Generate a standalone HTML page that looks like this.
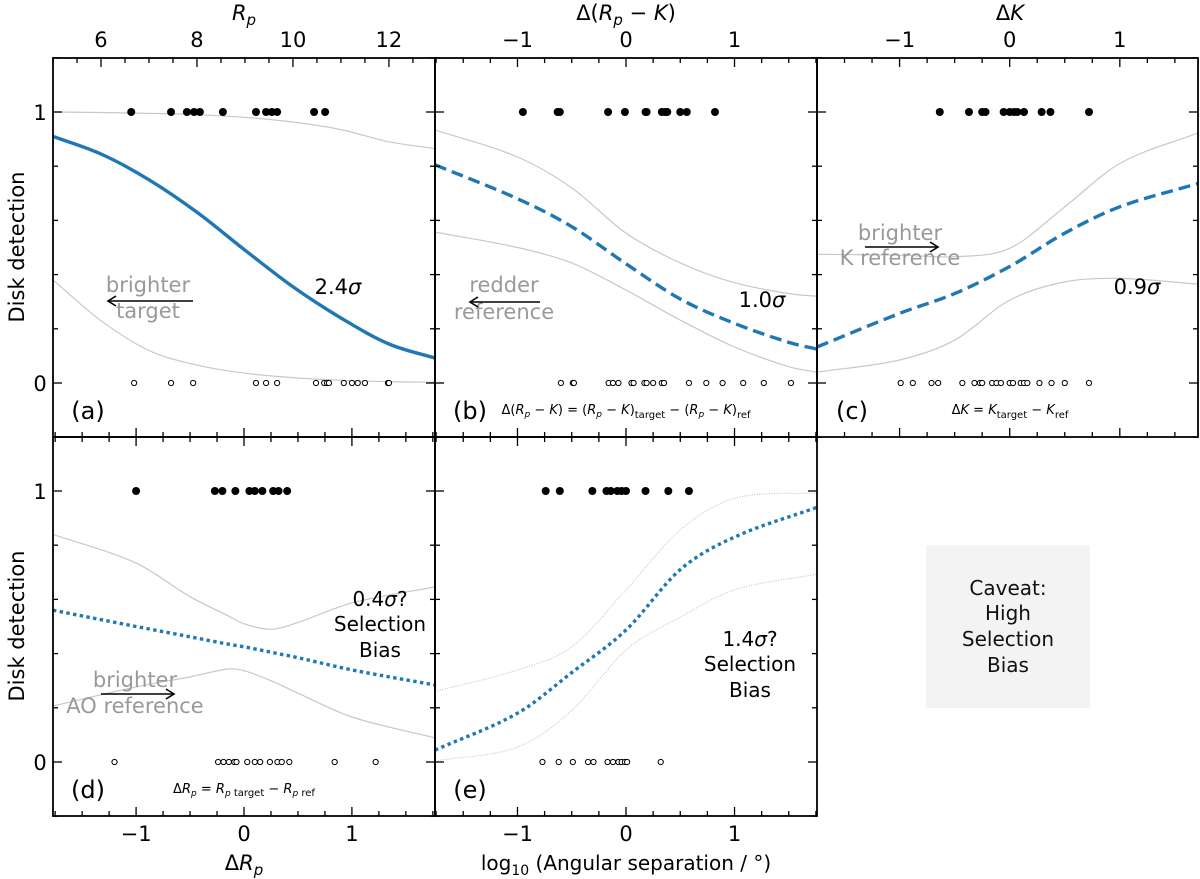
<!DOCTYPE html>
<html><head><meta charset="utf-8"><style>
html,body{margin:0;padding:0;background:#fff}
svg{display:block;font-family:"DejaVu Sans","Liberation Sans",sans-serif}
</style></head><body>
<svg id="fig" width="1200" height="879" viewBox="0 0 1200 879" xmlns="http://www.w3.org/2000/svg">
<rect x="926" y="545" width="164" height="163" fill="#f3f3f3"/>
<g font-size="20" text-anchor="middle" fill="#111">
<text x="1008" y="595">Caveat:</text><text x="1008" y="620">High</text><text x="1008" y="646">Selection</text><text x="1008" y="672">Bias</text>
</g>
</svg>
<script>
// ---- Panel (a): x = Rp
const aDetX=[6.63,7.46,7.79,7.94,8.06,8.54,9.23,9.44,9.56,9.67,10.44,10.67];
const aNonX=[6.69,7.46,7.92,9.23,9.44,9.67,10.48,10.65,10.71,10.75,11.06,11.23,11.35,11.5,11.98,12.0];
const aCurveX=[5,6,7,8,9,10,11,12,12.96];
const aFit=[0.91,0.845,0.75,0.63,0.49,0.355,0.24,0.144,0.092];
const aUpper=[1.0,0.998,0.995,0.99,0.98,0.963,0.935,0.89,0.865];
const aLower=[0.38,0.23,0.12,0.066,0.036,0.02,0.01,0.005,0.003];
// ---- Panel (b): x = Δ(Rp−K)
const bDetX=[-0.95,-0.63,-0.61,-0.165,-0.01,0.18,0.19,0.33,0.36,0.38,0.5,0.56,0.82];
const bNonX=[-0.6,-0.49,-0.48,-0.16,-0.12,-0.07,0.05,0.07,0.17,0.19,0.25,0.33,0.35,0.58,0.74,0.89,1.08,1.27,1.52];
const bCurveX=[-1.76,-1,-0.5,0,0.5,1,1.5,1.76];
const bFit=[0.805,0.68,0.577,0.44,0.31,0.22,0.15,0.125];
const bUpper=[0.934,0.834,0.72,0.553,0.443,0.37,0.33,0.32];
const bLower=[0.557,0.5,0.443,0.343,0.232,0.133,0.06,0.04];
// ---- Panel (c): x = ΔK
const cDetX=[-0.635,-0.37,-0.25,-0.22,-0.055,0,0.04,0.07,0.13,0.29,0.37,0.72];
const cNonX=[-0.99,-0.88,-0.71,-0.65,-0.43,-0.32,-0.27,-0.25,-0.16,-0.12,-0.08,0,0.03,0.1,0.13,0.16,0.27,0.38,0.5,0.72];
const cCurveX=[-1.75,-1,-0.5,0,0.5,1,1.71];
const cFit=[0.133,0.257,0.33,0.43,0.553,0.65,0.736];
const cUpper=[0.475,0.472,0.466,0.497,0.65,0.81,0.923];
const cLower=[0.04,0.085,0.158,0.306,0.373,0.386,0.365];
// ---- Panel (d): x = ΔRp
const dDetX=[-1.0,-0.27,-0.2,-0.08,0.05,0.1,0.17,0.27,0.32,0.4];
const dNonX=[-1.2,-0.24,-0.19,-0.14,-0.09,-0.07,0.03,0.1,0.15,0.24,0.31,0.35,0.42,0.84,1.22];
const dCurveX=[-1.77,-1,-0.5,-0.15,0,0.25,0.5,1,1.77];
const dFit=[0.56,0.5,0.462,0.435,0.425,0.405,0.385,0.34,0.284];
const dUpper=[0.84,0.734,0.61,0.54,0.51,0.49,0.515,0.587,0.646];
const dLower=[0.207,0.277,0.314,0.343,0.337,0.3,0.254,0.166,0.089];
// ---- Panel (e): x = log10 angular separation
const eDetX=[-0.74,-0.61,-0.31,-0.18,-0.14,-0.08,-0.04,0,0.18,0.39,0.58];
const eNonX=[-0.77,-0.62,-0.49,-0.35,-0.3,-0.17,-0.12,-0.07,-0.04,-0.01,0.01,0.32];
const eCurveX=[-1.76,-1,-0.5,0,0.5,1,1.76];
const eFit=[0.044,0.18,0.33,0.487,0.71,0.83,0.94];
const eUpper=[0.26,0.34,0.425,0.635,0.856,0.973,0.993];
const eLower=[0.004,0.055,0.19,0.413,0.535,0.635,0.693];

const NS='http://www.w3.org/2000/svg';
const svg=document.getElementById('fig');
function mk(tag,attrs,parent){const e=document.createElementNS(NS,tag);for(const k in attrs)e.setAttribute(k,attrs[k]);(parent||svg).appendChild(e);return e;}
function yScale(top,v){const y1=top+54,y0=top+325;return y0+(y1-y0)*v;}
function pathFrom(xs,ys,sx,sy){
  const p=xs.map((x,i)=>[sx(x),sy(ys[i])]);
  const n=p.length;
  const m=p.map((q,i)=>{const a=p[Math.max(0,i-1)],b=p[Math.min(n-1,i+1)];return (b[1]-a[1])/(b[0]-a[0]);});
  let d='M'+p[0][0].toFixed(1)+','+p[0][1].toFixed(1);
  for(let i=0;i<n-1;i++){
    const p1=p[i],p2=p[i+1],dx=(p2[0]-p1[0])/3;
    d+=' C'+(p1[0]+dx).toFixed(1)+','+(p1[1]+m[i]*dx).toFixed(1)+' '+(p2[0]-dx).toFixed(1)+','+(p2[1]-m[i+1]*dx).toFixed(1)+' '+p2[0].toFixed(1)+','+p2[1].toFixed(1);
  }
  return d;
}
function panel(cfg){
  const g=mk('g',{});
  
  
  const L=cfg.x0,R=cfg.x1,T=cfg.top,B=cfg.top+379;
  const sx=v=>L+(v-cfg.dom[0])/(cfg.dom[1]-cfg.dom[0])*(R-L);
  const sy=v=>yScale(T,v);
  const clipId='clip-'+cfg.name;
  const cp=mk('clipPath',{id:clipId},g);mk('rect',{x:L,y:T,width:R-L,height:B-T},cp);
  const inner=mk('g',{'clip-path':'url(#'+clipId+')'},g);
  const up=mk('path',{d:pathFrom(cfg.cx,cfg.upper,sx,sy),fill:'none',stroke:'#c8c8c8','stroke-width':1.2,'stroke-dasharray':cfg.bandDash||'none'},inner);
  
  
  const lo=mk('path',{d:pathFrom(cfg.cx,cfg.lower,sx,sy),fill:'none',stroke:'#c8c8c8','stroke-width':1.2,'stroke-dasharray':cfg.bandDash||'none'},inner);
  
  
  const fit=mk('path',{d:pathFrom(cfg.cx,cfg.fit,sx,sy),fill:'none',stroke:'#1f77b4','stroke-width':3.4,'stroke-dasharray':cfg.dash},inner);
  
  
  cfg.det.forEach(v=>{const c=mk('circle',{cx:sx(v),cy:sy(1),r:4,fill:'#000'},inner);
    
    });
  cfg.non.forEach(v=>{const c=mk('circle',{cx:sx(v),cy:sy(0),r:2.6,fill:'#fff',stroke:'#000','stroke-width':1},inner);
    
    });
  const tk=mk('g',{stroke:'#000','stroke-width':1.3},g);
  for(let v=-0.2;v<=1.21;v+=0.2){const y=sy(v);const maj=Math.abs(v)<0.01||Math.abs(v-1)<0.01;const l=maj?9:5;
    mk('line',{x1:L,y1:y,x2:L+l,y2:y},tk);mk('line',{x1:R,y1:y,x2:R-l,y2:y},tk);}
  function xt(dom,sfun,step,minor,yEdge,dir){
    const s=Math.ceil(dom[0]/minor-1e-6);const e=Math.floor(dom[1]/minor+1e-6);
    for(let i=s;i<=e;i++){const v=i*minor;const maj=Math.abs(v/step-Math.round(v/step))<1e-6;const l=maj?9:5;const x=sfun(v);
      mk('line',{x1:x,y1:yEdge,x2:x,y2:yEdge+dir*l},tk);}
  }
  xt(cfg.dom,sx,cfg.major,cfg.minor,T,1);
  const bd=cfg.botDom||cfg.dom;const bsx=v=>L+(v-bd[0])/(bd[1]-bd[0])*(R-L);
  xt(bd,bsx,1,0.25,B,-1);
  const fr=mk('rect',{x:L,y:T,width:R-L,height:B-T,fill:'none',stroke:'#000','stroke-width':1.8},g);
  
  
  return {sx,sy,g};
}
const A=panel({name:'panel-a-rp',x0:53,x1:435,top:58,dom:[5.0,12.96],major:2,minor:0.5,botDom:[-1.77,1.77],cx:aCurveX,fit:aFit,upper:aUpper,lower:aLower,det:aDetX,non:aNonX,dash:'none'});
const Bp=panel({name:'panel-b-color',x0:435,x1:817,top:58,dom:[-1.76,1.76],major:1,minor:0.25,cx:bCurveX,fit:bFit,upper:bUpper,lower:bLower,det:bDetX,non:bNonX,dash:'12,6'});
const C=panel({name:'panel-c-k',x0:817,x1:1198,top:58,dom:[-1.75,1.71],major:1,minor:0.25,cx:cCurveX,fit:cFit,upper:cUpper,lower:cLower,det:cDetX,non:cNonX,dash:'12,6'});
const D=panel({name:'panel-d-delta-rp',x0:53,x1:435,top:437,dom:[-1.77,1.77],major:1,minor:0.25,cx:dCurveX,fit:dFit,upper:dUpper,lower:dLower,det:dDetX,non:dNonX,dash:'3.4,3.4'});
const E=panel({name:'panel-e-separation',x0:435,x1:817,top:437,dom:[-1.76,1.76],major:1,minor:0.25,cx:eCurveX,fit:eFit,upper:eUpper,lower:eLower,det:eDetX,non:eNonX,dash:'3.4,3.4',bandDash:'1,1.5'});

function txt(s,x,y,opts){const t=mk('text',Object.assign({x:x,y:y,'font-size':20,'text-anchor':'middle',fill:'#000'},opts||{}));t.innerHTML=s;return t;}
function label(s,x,y,name,opts){const t=txt(s,x,y,opts);return t;}
[6,8,10,12].forEach(v=>label(String(v),A.sx(v),47,'top-tick-label',{'font-size':21}));
[[Bp,'top-tick-label'],[C,'top-tick-label']].forEach(([P,n])=>[-1,0,1].forEach(v=>label(v<0?'−1':String(v),P.sx(v),47,n,{'font-size':21})));
[D,E].forEach(P=>[-1,0,1].forEach(v=>label(v<0?'−1':String(v),P.sx(v),841,'bottom-tick-label',{'font-size':21})));
[[58],[437]].forEach(([t])=>{label('1',40,yScale(t,1)+8,'y-tick-label',{'font-size':21});label('0',40,yScale(t,0)+8,'y-tick-label',{'font-size':21});});
label('<tspan font-style="italic">R</tspan><tspan font-style="italic" font-size="15" dy="5">p</tspan>',244,20,'top-axis-title-rp',{'font-size':21});
label('Δ(<tspan font-style="italic">R</tspan><tspan font-style="italic" font-size="15" dy="5">p</tspan><tspan dy="-5"> − </tspan><tspan font-style="italic">K</tspan>)',626,20,'top-axis-title-color',{'font-size':21});
label('Δ<tspan font-style="italic">K</tspan>',1010,20,'top-axis-title-k',{'font-size':21});
label('Δ<tspan font-style="italic">R</tspan><tspan font-style="italic" font-size="15" dy="5">p</tspan>',244,870,'x-axis-title-delta-rp',{'font-size':21});
label('log<tspan font-size="14" dy="5">10</tspan><tspan dy="-5"> (Angular separation / °)</tspan>',626,870,'x-axis-title-separation',{'font-size':20});
label('Disk detection',0,0,'y-axis-title-top',{'font-size':21,transform:'translate(24,247) rotate(-90)'});
label('Disk detection',0,0,'y-axis-title-bottom',{'font-size':21,transform:'translate(24,626) rotate(-90)'});
label('(a)',88,419,'panel-letter-a',{'font-size':24});
label('(b)',470,419,'panel-letter-b',{'font-size':24});
label('(c)',852,419,'panel-letter-c',{'font-size':24});
label('(d)',88,798,'panel-letter-d',{'font-size':24});
label('(e)',470,798,'panel-letter-e',{'font-size':24});
label('2.4<tspan font-style="italic">σ</tspan>',338,294,'significance-a',{'font-size':21});
label('1.0<tspan font-style="italic">σ</tspan>',762,307,'significance-b',{'font-size':21});
label('0.9<tspan font-style="italic">σ</tspan>',1137,294,'significance-c',{'font-size':21});
label('0.4<tspan font-style="italic">σ</tspan>?',380,606,'significance-d',{'font-size':20});
label('Selection',380,631,'selection-bias-d',{'font-size':20});
label('Bias',380,657,'selection-bias-d2',{'font-size':20});
label('1.4<tspan font-style="italic">σ</tspan>?',750,646,'significance-e',{'font-size':20});
label('Selection',750,671,'selection-bias-e',{'font-size':20});
label('Bias',750,697,'selection-bias-e2',{'font-size':20});
const G={fill:'#999','font-size':21};
label('brighter',148,292,'annotation-brighter-target',G);label('target',148,318,'annotation-target',G);
label('redder',504,292,'annotation-redder',G);label('reference',504,319,'annotation-reference',G);
label('brighter',900,240,'annotation-brighter-k',G);label('K reference',900,265,'annotation-k-reference',G);
label('brighter',135,687,'annotation-brighter-ao',G);label('AO reference',135,713,'annotation-ao-reference',G);
function arrow(x1,x2,y,name){const g=mk('g',{stroke:'#000','stroke-width':1.6,fill:'none'});
  mk('line',{x1:x1,y1:y,x2:x2,y2:y},g);const d=x2>x1?-1:1;mk('path',{d:`M${x2+d*8},${y-5} L${x2},${y} L${x2+d*8},${y+5}`},g);}
arrow(193,108,301,'arrow-brighter-target');arrow(540,470,302,'arrow-redder');arrow(865,938,247,'arrow-brighter-k');arrow(101,174,694,'arrow-brighter-ao');
label('Δ(<tspan font-style="italic">R</tspan><tspan font-style="italic" font-size="9" dy="3">p</tspan><tspan dy="-3"> − </tspan><tspan font-style="italic">K</tspan>) = (<tspan font-style="italic">R</tspan><tspan font-style="italic" font-size="9" dy="3">p</tspan><tspan dy="-3"> − </tspan><tspan font-style="italic">K</tspan>)<tspan font-size="10" dy="4">target</tspan><tspan dy="-4"> − (</tspan><tspan font-style="italic">R</tspan><tspan font-style="italic" font-size="9" dy="3">p</tspan><tspan dy="-3"> − </tspan><tspan font-style="italic">K</tspan>)<tspan font-size="10" dy="4">ref</tspan>',626,414,'formula-color',{'font-size':13});
label('Δ<tspan font-style="italic">K</tspan> = <tspan font-style="italic">K</tspan><tspan font-size="10" dy="4">target</tspan><tspan dy="-4"> − </tspan><tspan font-style="italic">K</tspan><tspan font-size="10" dy="4">ref</tspan>',1010,414,'formula-k',{'font-size':13});
label('Δ<tspan font-style="italic">R</tspan><tspan font-style="italic" font-size="9" dy="3">p</tspan><tspan dy="-3"> = </tspan><tspan font-style="italic">R</tspan><tspan font-style="italic" font-size="9" dy="3">p</tspan><tspan font-size="10"> target</tspan><tspan dy="-3"> − </tspan><tspan font-style="italic">R</tspan><tspan font-style="italic" font-size="9" dy="3">p</tspan><tspan font-size="10"> ref</tspan>',244,793,'formula-delta-rp',{'font-size':13});
</script>
</body></html>
